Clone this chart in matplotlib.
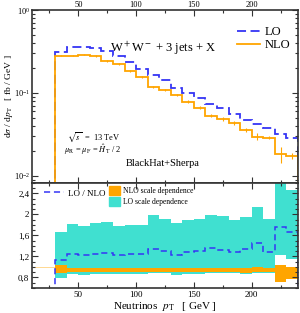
import numpy as np
import matplotlib
matplotlib.use('Agg')
from matplotlib import pyplot
from matplotlib.ticker import MultipleLocator, AutoMinorLocator, FuncFormatter
from matplotlib.patches import Patch
from matplotlib.lines import Line2D

pyplot.rcParams['font.family'] = ['Liberation Serif', 'DejaVu Serif']
pyplot.rcParams['mathtext.fontset'] = 'stix'

# neutrino pT bins [GeV]
pt_edges = np.arange(30, 250, 10)
pt_centers = 0.5 * (pt_edges[1:] + pt_edges[:-1])

# dsigma/dpT [fb/GeV]
nlo = [0.281, 0.281, 0.289, 0.279, 0.243, 0.224, 0.183, 0.155, 0.119, 0.109, 0.0946,
       0.0786, 0.0665, 0.0533, 0.0486, 0.0431, 0.0358, 0.0298, 0.0289, 0.0183, 0.0174]
lo = [0.31, 0.355, 0.358, 0.35, 0.318, 0.28, 0.236, 0.197, 0.163, 0.143, 0.116,
      0.101, 0.087, 0.074, 0.065, 0.0557, 0.0478, 0.042, 0.0378, 0.0322, 0.0289]
nlo_relerr = [0.01, 0.015, 0.02, 0.02, 0.02, 0.02, 0.025, 0.03, 0.03, 0.03, 0.035,
              0.035, 0.04, 0.045, 0.05, 0.05, 0.06, 0.1, 0.05, 0.22, 0.07]

# ratio panel
ratio = [1.124, 1.238, 1.225, 1.238, 1.263, 1.219, 1.238, 1.25, 1.345, 1.30, 1.23,
         1.29, 1.30, 1.365, 1.33, 1.29, 1.35, 1.45, 1.29, 1.77, 1.66]
lo_band_hi = [1.657, 1.821, 1.79, 1.834, 1.853, 1.783, 1.809, 1.809, 1.987, 1.91, 1.83,
              1.9, 1.91, 1.995, 1.965, 1.9, 1.95, 2.133, 1.91, 2.75, 2.457]
lo_band_lo = [0.79, 0.865, 0.855, 0.875, 0.865, 0.87, 0.865, 0.875, 0.885, 0.885, 0.845,
              0.875, 0.875, 0.88, 0.885, 0.885, 0.86, 0.885, 0.895, 1.23, 1.15]
nlo_band_hi = [1.03, 0.99, 0.99, 0.985, 0.99, 0.985, 0.99, 0.99, 0.985, 0.985, 0.99,
               0.985, 0.985, 0.99, 0.985, 0.985, 0.99, 0.995, 0.99, 1.03, 1.0]
nlo_band_lo = [0.885, 0.905, 0.91, 0.905, 0.905, 0.91, 0.905, 0.91, 0.905, 0.91, 0.9,
               0.905, 0.91, 0.905, 0.905, 0.91, 0.895, 0.9, 0.905, 0.71, 0.78]

c_lo = '#3535f5'
c_nlo = '#ffa500'
c_teal = '#40e0d0'
c_frame = '#333333'

fig = pyplot.figure(figsize=(3.0, 3.13), dpi=100)
ax1 = fig.add_axes([0.107, 0.4153, 0.886, 0.5527])
ax2 = fig.add_axes([0.107, 0.0799, 0.886, 0.3355])

# --- top panel
ax1.stairs(lo, pt_edges, baseline=0, color=c_lo, lw=1.3, ls=(0, (5, 2.5)))
ax1.stairs(nlo, pt_edges, baseline=0, color=c_nlo, lw=1.3)
ax1.errorbar(pt_centers, nlo, yerr=np.array(nlo) * np.array(nlo_relerr),
             fmt='none', ecolor=c_nlo, elinewidth=0.8)
ax1.set_yscale('log')
ax1.set_xlim(10, 240)
ax1.set_ylim(0.0082, 1)
ax1.set_ylabel(r'd$\sigma$ / d$p_{\rm T}$   [ fb / GeV ]', fontsize=6.8)
ax1.yaxis.set_label_coords(-0.063, 0.5)

ax1.text(0.293, 0.78, r'W$^+$W$^-$ + 3 jets + X', transform=ax1.transAxes, fontsize=9,
         va='center')
ax1.text(0.13, 0.265, r'$\sqrt{s}$  =  13 TeV', transform=ax1.transAxes, fontsize=6,
         va='center')
ax1.text(0.12, 0.19, r'$\mu_{\rm R}$ = $\mu_{\rm F}$ = $\hat{H}_{\rm T}$ / 2',
         transform=ax1.transAxes, fontsize=6, va='center')
ax1.text(0.353, 0.115, 'BlackHat+Sherpa', transform=ax1.transAxes, fontsize=7.5,
         va='center')

ax1.legend(handles=[Line2D([], [], color=c_lo, lw=1.3, ls=(0, (5, 2.5))),
                    Line2D([], [], color=c_nlo, lw=1.3)],
           labels=['LO', 'NLO'], loc='upper right', bbox_to_anchor=(1.0, 0.95),
           frameon=False, fontsize=9, handlelength=1.8, handletextpad=0.4,
           labelspacing=0.1, borderaxespad=0.2)

# --- ratio panel
ax2.axhline(1.0, color=c_nlo, lw=0.5, alpha=0.6, zorder=0)
ax2.stairs(lo_band_hi, pt_edges, baseline=lo_band_lo, fill=True, color=c_teal, lw=0)
ax2.stairs(nlo_band_hi, pt_edges, baseline=nlo_band_lo, fill=True, color=c_nlo, lw=0)
ax2.stairs(ratio, pt_edges, baseline=0, color=c_lo, lw=1.1, ls=(0, (4, 2.5)))
ax2.set_xlim(10, 240)
ax2.set_ylim(0.6, 2.6)
ax2.set_xlabel(r'Neutrinos  $p_{\rm T}$   [ GeV ]', fontsize=8, labelpad=1)
ax2.yaxis.set_major_locator(MultipleLocator(0.4))
ax2.yaxis.set_minor_locator(AutoMinorLocator(4))
ax2.yaxis.set_major_formatter(FuncFormatter(lambda v, p: ('%g' % round(v, 2)).replace('.', ',')))

leg2 = ax2.legend(handles=[Line2D([], [], color=c_lo, lw=1.1, ls=(0, (4, 2.5)))],
                  labels=['LO / NLO'], loc='upper left', bbox_to_anchor=(0.02, 1.0),
                  frameon=False, fontsize=6.5, handlelength=2.2, handletextpad=0.5,
                  borderaxespad=0.3)
ax2.add_artist(leg2)
ax2.legend(handles=[Patch(color=c_nlo), Patch(color=c_teal)],
           labels=['NLO scale dependence', 'LO scale dependence'],
           loc='upper left', bbox_to_anchor=(0.27, 1.02), frameon=False, fontsize=5.5,
           handlelength=1.4, handleheight=1.4, handletextpad=0.4, labelspacing=0.3,
           borderaxespad=0.3)

for ax in (ax1, ax2):
    ax.xaxis.set_major_locator(MultipleLocator(50))
    ax.xaxis.set_minor_locator(MultipleLocator(25))
    ax.tick_params(which='both', direction='in', top=True, right=True,
                   labelsize=6.5, color=c_frame, width=0.8, pad=2)
    ax.tick_params(which='major', length=4)
    ax.tick_params(which='minor', length=2)
    for s in ax.spines.values():
        s.set_color(c_frame)
        s.set_linewidth(1.2)

ax1.tick_params(axis='x', labeltop=True, labelbottom=False, labelsize=6, pad=0.8)
ax1.tick_params(axis='y', labelsize=6, pad=1.2)

fig.savefig('out.png', dpi=100)
